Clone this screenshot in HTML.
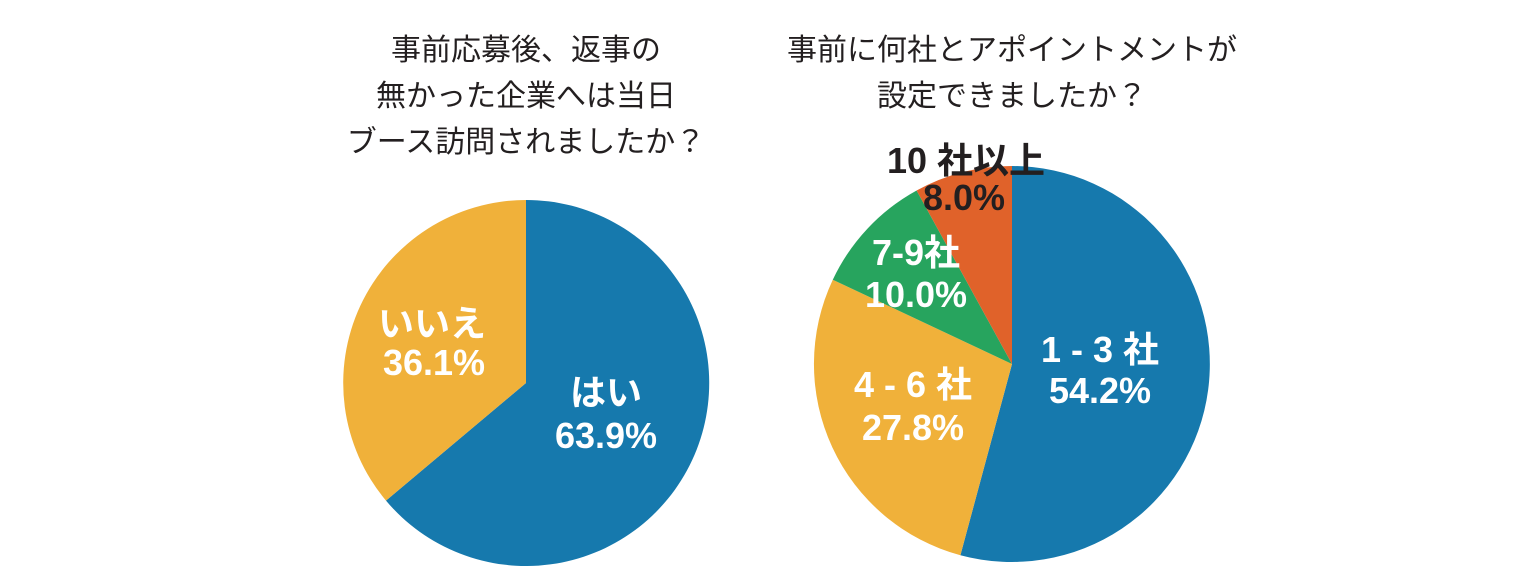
<!DOCTYPE html>
<html><head><meta charset="utf-8"><style>
html,body{margin:0;padding:0;background:#fff;}
svg{display:block;}
text{font-family:"Liberation Sans","Noto Sans CJK JP",sans-serif;}
.t{font-size:30px;fill:#231f20;text-anchor:middle;}
.l{font-size:36px;font-weight:bold;fill:#fff;text-anchor:middle;}
</style></head><body>
<svg width="1540" height="585" viewBox="0 0 1540 585">
<rect width="1540" height="585" fill="#fff"/>
<text class="t" x="526" y="60">事前応募後、返事の</text>
<text class="t" x="526" y="106">無かった企業へは当日</text>
<text class="t" x="526" y="152">ブース訪問されましたか？</text>
<text class="t" x="1012" y="60">事前に何社とアポイントメントが</text>
<text class="t" x="1012" y="106">設定できましたか？</text>

<path d="M526,383 L526,200 A183,183 0 1 1 386,500.6 Z" fill="#1679ad"/>
<path d="M526,383 L386,500.6 A183,183 0 0 1 526,200 Z" fill="#f0b13a"/>
<text class="l" x="432" y="336">いいえ</text>
<text class="l" x="434" y="375">36.1%</text>
<text class="l" x="606" y="405">はい</text>
<text class="l" x="606" y="448">63.9%</text>

<path d="M1012,364 L1012,166 A198,198 0 1 1 960.4,555.2 Z" fill="#1679ad"/>
<path d="M1012,364 L960.4,555.2 A198,198 0 0 1 832.8,279.7 Z" fill="#f0b13a"/>
<path d="M1012,364 L832.8,279.7 A198,198 0 0 1 916.6,190.5 Z" fill="#27a45e"/>
<path d="M1012,364 L916.6,190.5 A198,198 0 0 1 1012,166 Z" fill="#e0622a"/>
<text class="l" x="1100" y="362">1 - 3 社</text>
<text class="l" x="1100" y="403">54.2%</text>
<text class="l" x="913" y="397">4 - 6 社</text>
<text class="l" x="913" y="440">27.8%</text>
<text class="l" x="916" y="265">7-9社</text>
<text class="l" x="916" y="307">10.0%</text>
<text class="l" x="966" y="173" style="fill:#231f20">10 社以上</text>
<text class="l" x="964" y="210" style="fill:#231f20">8.0%</text>
</svg>
</body></html>
